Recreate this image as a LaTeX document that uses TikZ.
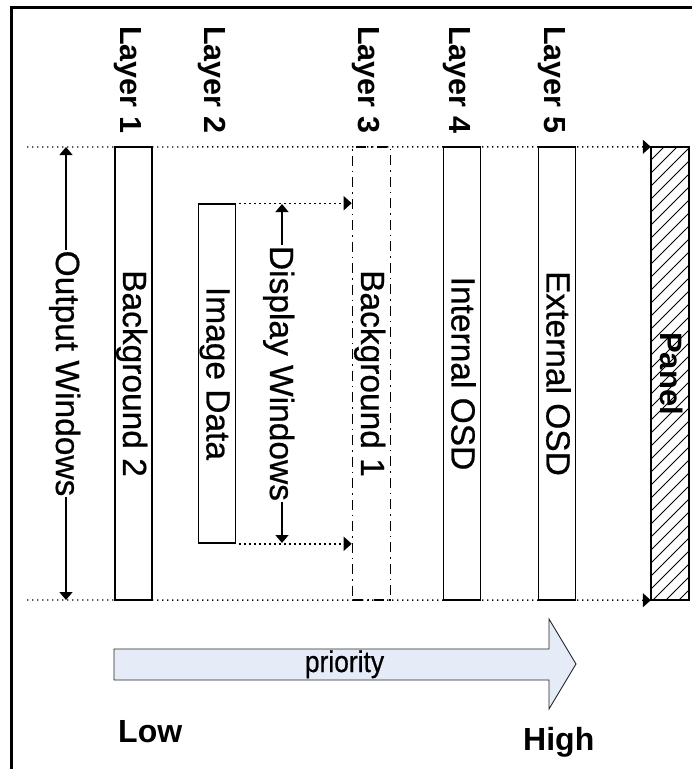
\documentclass[tikz,border=0pt]{standalone}
\usepackage{fontspec}
\setmainfont{Liberation Sans}
\newfontface\heavyreg[FakeBold=0.6]{Liberation Sans}
\usetikzlibrary{arrows.meta}
\definecolor{arrowfill}{RGB}{230,236,247}
\begin{document}
\begin{tikzpicture}[x=1pt,y=-1pt,
  bar/.style={draw, line width=1.6pt, fill=white, minimum width=37pt, inner sep=0pt},
  bartext/.style={rotate=-90, anchor=base, font=\heavyreg\fontsize{33.5}{36}\selectfont, inner sep=0pt},
  layerlbl/.style={rotate=-90, anchor=base west, font=\bfseries\fontsize{30.5}{33}\selectfont, inner sep=0pt},
  dotline/.style={line width=1.4pt, dash pattern=on 1.4pt off 3.6pt},
  tipend/.style={-{Triangle[length=8pt,width=14pt]}},
  measure/.style={line width=1.4pt, {Triangle[length=8pt,width=13pt]}-{Triangle[length=8pt,width=13pt]}},
  measuretext/.style={rotate=-90, anchor=base, fill=white, inner sep=1pt, font=\heavyreg\fontsize{33.5}{36}\selectfont},
  bigtext/.style={anchor=base west, inner sep=0pt, font=\bfseries\fontsize{32}{35}\selectfont},
]
\useasboundingbox (0,0) rectangle (692,769);
% frame
\draw[line width=3pt] (11,769) -- (11,7) -- (692,7);

% layer bars
\node[bar, minimum height=453pt] (L1) at (133.5,373.5) {};
\node[bar, minimum height=339pt] (L2) at (217,373.5) {};
\node[draw, line width=1.6pt, minimum width=38pt, minimum height=453pt, inner sep=0pt,
      dash pattern=on 10pt off 5pt on 1.5pt off 5pt] (L3) at (371.5,373.5) {};
\node[bar, minimum height=453pt] (L4) at (462,373.5) {};
\node[bar, minimum height=453pt] (L5) at (557,373.5) {};

% panel
\node[minimum width=38pt, minimum height=453pt, inner sep=0pt] (panel) at (670,373.5) {};
\begin{scope}
  \clip (panel.north west) rectangle (panel.south east);
  \foreach \k in {0,...,38}
    \draw[line width=1pt] (651,{147+13*\k}) -- ++(45,-45);
\end{scope}
\draw[line width=1.8pt] (panel.north west) rectangle (panel.south east);

% dotted guide lines
\coordinate (topL) at (27,147);
\coordinate (botL) at (27,600);
\draw[dotline, tipend] (topL) -- (panel.north west);
\draw[dotline, tipend] (botL) -- (panel.south west);
\draw[dotline, tipend] ([xshift=3pt]L2.north east) -- (L3.west |- L2.north);
\draw[dotline, tipend] ([xshift=3pt]L2.south east) -- (L3.west |- L2.south);

% layer labels
\node[layerlbl] (lab1) at (120.5,26) {Layer 1};
\node[layerlbl] (lab2) at (204,26) {Layer 2};
\node[layerlbl] (lab3) at (358.5,26) {Layer 3};
\node[layerlbl] (lab4) at (449,26) {Layer 4};
\node[layerlbl] (lab5) at (544,26) {Layer 5};

% bar texts
\node[bartext] (t1) at (123,373.5) {Background 2};
\node[bartext] (t2) at (206.5,373.5) {Image Data};
\node[bartext] (t3) at (361,373.5) {Background 1};
\node[bartext] (t4) at (451.5,373.5) {Internal OSD};
\node[bartext] (t5) at (546.5,373.5) {External OSD};
\node[rotate=-90, anchor=base, inner sep=0pt, font=\bfseries\fontsize{31}{34}\selectfont] (tp) at (660,373.5) {Panel};

% measures
\coordinate (owTop) at (66,147);
\coordinate (owBot) at (66,600);
\draw[measure] (owTop) -- (owBot);
\node[measuretext] (ow) at (56,373.5) {Output Windows};
\coordinate (dwTop) at (282,204);
\coordinate (dwBot) at (282,543);
\draw[measure] (dwTop) -- (dwBot);
\node[measuretext] (dw) at (270,373.5) {Display Windows};

% priority arrow
\draw[fill=arrowfill, draw=black!85, line width=0.9pt]
  (114,649) -- (549,649) -- (549,619) -- (576,664) -- (549,709) -- (549,680) -- (114,680) -- cycle;
\node[anchor=base, inner sep=0pt, font=\heavyreg\fontsize{30}{32}\selectfont] (prio) at (344.5,672) {\scalebox{0.88}[1]{priority}};
\node[bigtext] (low) at (118,742.7) {Low};
\node[bigtext] (high) at (523,750) {High};
\end{tikzpicture}
\end{document}
